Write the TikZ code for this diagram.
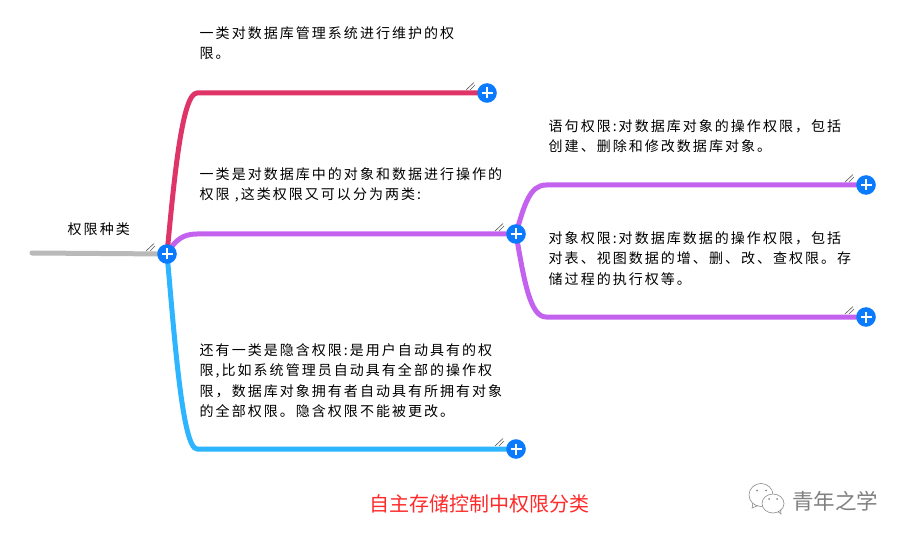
\documentclass[tikz,border=0pt]{standalone}
\usepackage{fontspec}
\usetikzlibrary{backgrounds}
\newfontfamily\cjk[LetterSpace=14.5]{Noto Sans CJK SC}
\newfontfamily\cjkplain{Noto Sans CJK SC}
\definecolor{pinkline}{HTML}{DF3468}
\definecolor{purpleline}{HTML}{C462F0}
\definecolor{blueline}{HTML}{2DB5FF}
\definecolor{greyline}{HTML}{B9B9B9}
\definecolor{plusblue}{HTML}{0A7BFF}
\definecolor{capred}{HTML}{FF2A2A}
\tikzset{
  x=1pt,y=-1pt,
  plusnode/.style={circle,fill=plusblue,minimum size=19.6pt,inner sep=0pt,
    path picture={\draw[white,line width=2.8pt]
      ([xshift=-5.5pt]path picture bounding box.center)--([xshift=5.5pt]path picture bounding box.center)
      ([yshift=-5.5pt]path picture bounding box.center)--([yshift=5.5pt]path picture bounding box.center);}},
  body/.style={anchor=north west,inner sep=0pt,align=left,font=\cjk\fontsize{14}{20.4}\selectfont,text=black},
  conn/.style={line width=5pt,line join=round,line cap=round},
  hatch/.style={draw=black!65,line width=0.6pt},
}
\begin{document}
\begin{tikzpicture}
\useasboundingbox (0,0) rectangle (908,540);
% expand nodes
\node[plusnode] (p0) at (167,254) {};
\node[plusnode] (p1) at (487,93) {};
\node[plusnode] (p2) at (516,234) {};
\node[plusnode] (p3) at (516,449) {};
\node[plusnode] (p4) at (866,185) {};
\node[plusnode] (p5) at (866,317) {};
\coordinate (start) at (32,253);
\coordinate (b1) at (197,93);
\coordinate (b2) at (197,234);
\coordinate (b3) at (197,449);
\coordinate (b4) at (546,185);
\coordinate (b5) at (546,317);
\begin{pgfonlayer}{background}
\fill[white] (0,0) rectangle (908,540);
\draw[conn,greyline] (start) -- (p0.center);
\draw[conn,blueline] (p0.center) .. controls (174,330) and (182,449) .. (b3) -- (p3.center);
\draw[conn,purpleline] (p0.center) .. controls (175,240) and (183,234) .. (b2) -- (p2.center);
\draw[conn,pinkline] (p0.center) .. controls (174,180) and (182,93) .. (b1) -- (p1.center);
\draw[conn,purpleline] (p2.center) .. controls (524,205) and (530,185) .. (b4) -- (p4.center);
\draw[conn,purpleline] (p2.center) .. controls (524,280) and (530,317) .. (b5) -- (p5.center);
\end{pgfonlayer}
% hatch marks
\foreach \n in {p0,p1,p2,p3,p4,p5}{
  \draw[hatch] ([shift={(-21,-3)}]\n.center) -- ([shift={(-13,-10.5)}]\n.center);
  \draw[hatch] ([shift={(-17,-3)}]\n.center) -- ([shift={(-12,-8)}]\n.center);
}
% labels
\node[body] (t0) at (67.5,223) {权限种类};
\node[body] (t1) at (199.5,26.5) {一类对数据库管理系统进行维护的权\\限。};
\node[body] (t2) at (199.5,167.5) {一类是对数据库中的对象和数据进行操作的\\权限 ,这类权限又可以分为两类:};
\node[body] (t3) at (199.5,343.5) {还有一类是隐含权限:是用户自动具有的权\\限,比如系统管理员自动具有全部的操作权\\限，数据库对象拥有者自动具有所拥有对象\\的全部权限。隐含权限不能被更改。};
\node[body] (t4) at (548.5,119.5) {语句权限:对数据库对象的操作权限，包括\\创建、删除和修改数据库对象。};
\node[body] (t5) at (548.5,231.5) {对象权限:对数据库数据的操作权限，包括\\对表、视图数据的增、删、改、查权限。存\\储过程的执行权等。};
\node[inner sep=0pt,font=\cjkplain\fontsize{20}{24}\selectfont,text=capred] (cap) at (479.5,504) {自主存储控制中权限分类};
% watermark
\draw[black!45,line width=0.6pt,fill=white] (761,495) ellipse (12 and 11.5);
\draw[black!45,line width=0.6pt] (753,503) -- (752,508) -- (758,505.5);
\fill[black!45] (757,490.5) circle (1) (766,490.5) circle (1);
\draw[black!45,line width=0.6pt,fill=white] (773,503.5) ellipse (11 and 9.5);
\draw[black!45,line width=0.6pt] (778,511.5) -- (781,514) -- (780.5,509.5);
\fill[black!45] (769,499) circle (1) (777,499) circle (1);
\node[inner sep=0pt,font=\cjkplain\fontsize{21.5}{24}\selectfont,text=black!50] (wm) at (835,501) {青年之学};
\end{tikzpicture}
\end{document}
